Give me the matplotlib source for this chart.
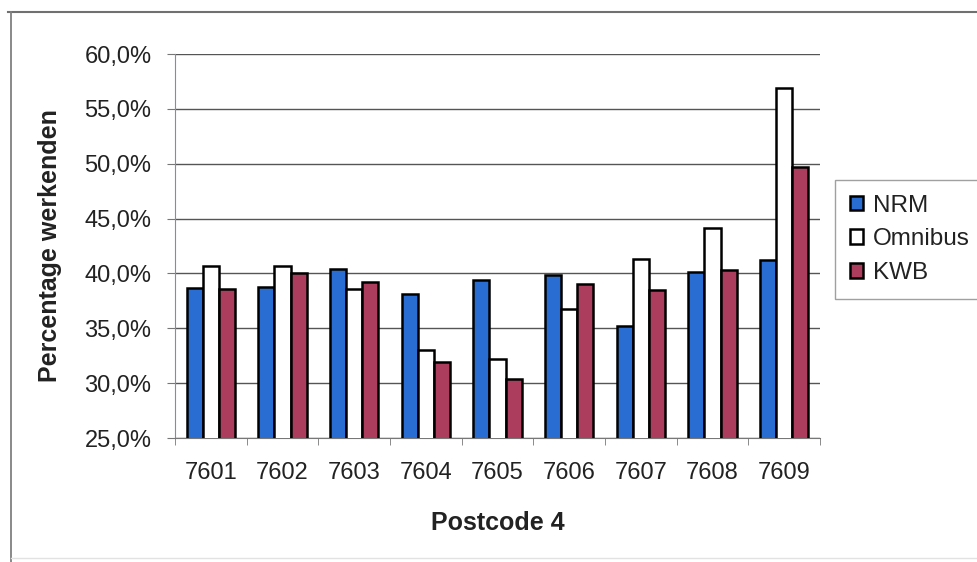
import numpy as np
import matplotlib.pyplot as plt
from matplotlib.lines import Line2D
from matplotlib.ticker import FuncFormatter, FixedLocator

plt.rcParams['font.family'] = ['Liberation Sans', 'DejaVu Sans']

# ====== DATA =======
postcodes = ["7601", "7602", "7603", "7604", "7605", "7606", "7607", "7608", "7609"]
nrm = [38.7, 38.8, 40.4, 38.1, 39.4, 39.9, 35.2, 40.1, 41.2]
omnibus = [40.7, 40.7, 38.6, 33.0, 32.2, 36.8, 41.3, 44.1, 56.9]
kwb = [38.6, 40.0, 39.2, 31.9, 30.4, 39.0, 38.5, 40.3, 49.7]

series = [("NRM", nrm, "#2a6dd2"), ("Omnibus", omnibus, "white"), ("KWB", kwb, "#ad3d5c")]

W, H = 977, 562
fig = plt.figure(figsize=(W / 100, H / 100), dpi=100)

# outer chart frame (top, left and faint bottom edge)
tf = fig.transFigure
fig.lines.append(Line2D([8 / W, 1], [1 - 12 / H] * 2, transform=tf, color="#707070", lw=1.5))
fig.lines.append(Line2D([11 / W] * 2, [1 - 12 / H, 0], transform=tf, color="#808080", lw=1.3))
fig.lines.append(Line2D([11 / W, 1], [1 - 558 / H] * 2, transform=tf, color="#e2e2e2", lw=1.0))

ax = fig.add_axes([175 / W, 1 - 438 / H, 645 / W, 384 / H])

x = np.arange(len(postcodes))
w = 0.225
for i, (name, vals, col) in enumerate(series):
    ax.bar(x + (i - 1) * w, np.array(vals) / 100, width=w, color=col,
           edgecolor="black", linewidth=1.8, label=name, zorder=3)

ax.set_xlim(-0.5, len(postcodes) - 0.5)
ax.set_ylim(0.25, 0.60)
ax.set_yticks(np.arange(0.25, 0.601, 0.05))
ax.yaxis.set_major_formatter(FuncFormatter(lambda v, p: f"{v * 100:.1f}%".replace(".", ",")))
ax.grid(axis="y", color="#555555", linewidth=1.0, zorder=0)

ax.set_xticks(x)
ax.set_xticklabels(postcodes)
ax.xaxis.set_minor_locator(FixedLocator(np.arange(-0.5, len(postcodes), 1.0)))
ax.tick_params(axis="x", which="major", length=0, pad=17, labelsize=17, labelcolor="#222222")
ax.tick_params(axis="x", which="minor", length=5, color="#777777")
ax.tick_params(axis="y", length=6, color="#777777", labelsize=17, pad=11, labelcolor="#222222")

for s in ["top", "right"]:
    ax.spines[s].set_visible(False)
ax.spines["left"].set_color("#8888aa")
ax.spines["bottom"].set_color("#777777")

ax.set_ylabel("Percentage werkenden", fontsize=18, fontweight="bold", labelpad=16, color="#222222")
ax.set_xlabel("Postcode 4", fontsize=18, fontweight="bold", labelpad=20, color="#222222")

fig.legend(loc="upper left", bbox_to_anchor=(835 / W, 1 - 180 / H),
           fontsize=17.5, frameon=True, fancybox=False, edgecolor="#888888",
           handlelength=0.55, handleheight=0.55, handletextpad=0.4,
           labelspacing=0.48, borderpad=0.6, borderaxespad=0, labelcolor="#222222")

fig.savefig("out.png", dpi=100)
